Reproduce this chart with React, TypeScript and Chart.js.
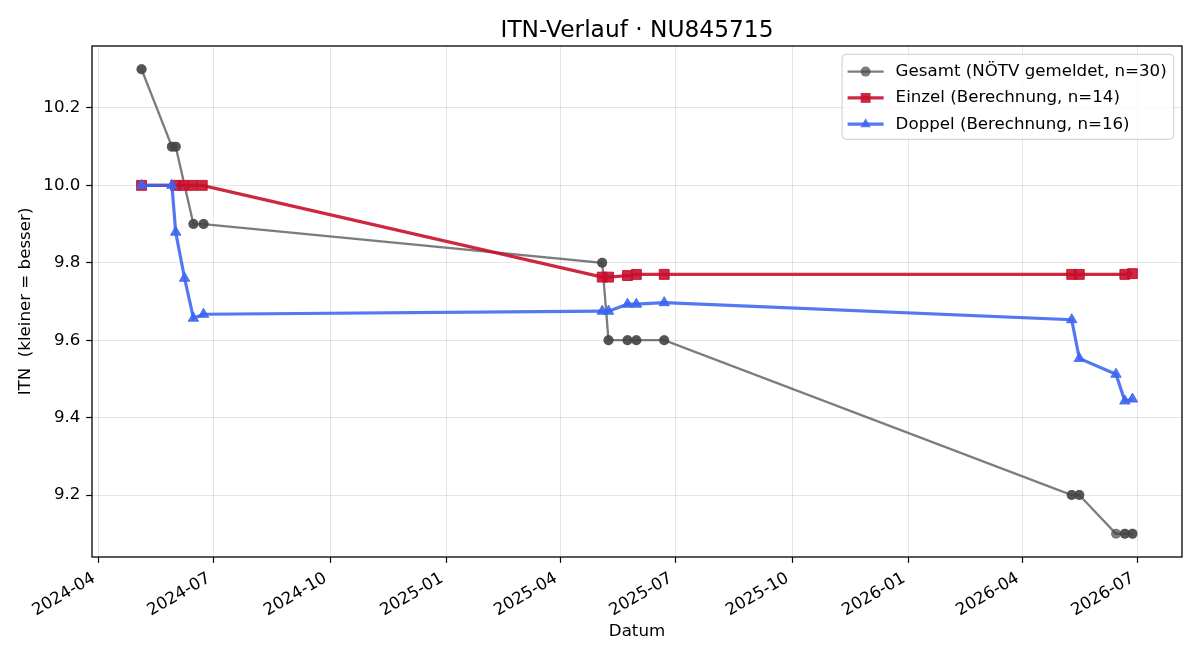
import React, { useEffect, useRef } from "react";
import { Chart, registerables } from "chart.js";

Chart.register(...registerables);

// ---- data ----
const gesamtDates = [
  "2024-05-05", "2024-05-05",
  "2024-05-29", "2024-05-29",
  "2024-06-01", "2024-06-01",
  "2024-06-15", "2024-06-15",
  "2024-06-23", "2024-06-23",
  "2025-05-04", "2025-05-04",
  "2025-05-09", "2025-05-09",
  "2025-05-24", "2025-05-24",
  "2025-05-31", "2025-05-31",
  "2025-06-22", "2025-06-22",
  "2026-05-10", "2026-05-10",
  "2026-05-16", "2026-05-16",
  "2026-06-14",
  "2026-06-21", "2026-06-21",
  "2026-06-27", "2026-06-27",
];
const gesamtValues = [
  10.3, 10.3,
  10.1, 10.1,
  10.1, 10.1,
  9.9, 9.9,
  9.9, 9.9,
  9.8, 9.8,
  9.6, 9.6,
  9.6, 9.6,
  9.6, 9.6,
  9.6, 9.6,
  9.2, 9.2,
  9.2, 9.2,
  9.1,
  9.1, 9.1,
  9.1, 9.1,
];

const einzelDates = [
  "2024-05-05", "2024-06-01", "2024-06-07", "2024-06-14", "2024-06-22",
  "2025-05-04", "2025-05-09", "2025-05-24", "2025-05-31", "2025-06-22",
  "2026-05-10", "2026-05-16", "2026-06-21", "2026-06-27",
];
const einzelValues = [
  10.0, 10.0, 10.0, 10.0, 10.0,
  9.763, 9.763, 9.767, 9.77, 9.77,
  9.77, 9.77, 9.77, 9.772,
];

const doppelDates = [
  "2024-05-05", "2024-05-29", "2024-06-01", "2024-06-08", "2024-06-15", "2024-06-23",
  "2025-05-04", "2025-05-09", "2025-05-24", "2025-05-31", "2025-06-22",
  "2026-05-10", "2026-05-16", "2026-06-14", "2026-06-21", "2026-06-27",
];
const doppelValues = [
  10.0, 10.0, 9.879, 9.76, 9.657, 9.667,
  9.675, 9.675, 9.693, 9.693, 9.697,
  9.653, 9.553, 9.512, 9.443, 9.448,
];

const xTickDates = [
  "2024-04-01", "2024-07-01", "2024-10-01", "2025-01-01", "2025-04-01",
  "2025-07-01", "2025-10-01", "2026-01-01", "2026-04-01", "2026-07-01",
];
const yTickValues = [9.2, 9.4, 9.6, 9.8, 10.0, 10.2];

const seriesLabels = [
  "Gesamt (NÖTV gemeldet, n=30)",
  "Einzel (Berechnung, n=14)",
  "Doppel (Berechnung, n=16)",
];
const titleText = "ITN-Verlauf · NU845715";
const xAxisLabel = "Datum";
const yAxisLabel = "ITN  (kleiner = besser)";

// ---- helpers ----
const FONT = "'DejaVu Sans', 'Liberation Sans', sans-serif";
const FS = 16.67;

const toTs = (s: string) => {
  const [y, m, d] = s.split("-").map(Number);
  return Date.UTC(y, m - 1, d);
};
const toPoints = (dates: string[], vals: number[]) =>
  dates.map((d, i) => ({ x: toTs(d), y: vals[i] }));

const allTs = [...gesamtDates, ...einzelDates, ...doppelDates].map(toTs);
const tsMin = Math.min(...allTs);
const tsMax = Math.max(...allTs);
const xMin = tsMin - (tsMax - tsMin) * 0.05;
const xMax = tsMax + (tsMax - tsMin) * 0.05;

const allVals = [...gesamtValues, ...einzelValues, ...doppelValues];
const vMin = Math.min(...allVals);
const vMax = Math.max(...allVals);
const yMin = vMin - (vMax - vMin) * 0.05;
const yMax = vMax + (vMax - vMin) * 0.05;

const fmtMonth = (v: number) => {
  const d = new Date(v);
  const m = d.getUTCMonth() + 1;
  return `${d.getUTCFullYear()}-${m < 10 ? "0" + m : m}`;
};

function drawMarker(ctx: CanvasRenderingContext2D, style: string, x: number, y: number, r: number) {
  ctx.beginPath();
  if (style === "rect") {
    const h = r * Math.SQRT1_2;
    ctx.rect(x - h, y - h, 2 * h, 2 * h);
  } else if (style === "triangle") {
    ctx.moveTo(x, y - r);
    ctx.lineTo(x + r * Math.sin((2 * Math.PI) / 3), y - r * Math.cos((2 * Math.PI) / 3));
    ctx.lineTo(x + r * Math.sin((4 * Math.PI) / 3), y - r * Math.cos((4 * Math.PI) / 3));
    ctx.closePath();
  } else {
    ctx.arc(x, y, r, 0, Math.PI * 2);
  }
  ctx.fill();
}

const spinePlugin = {
  id: "spines",
  afterDatasetsDraw(chart: any) {
    const { ctx, chartArea: a } = chart;
    ctx.save();
    ctx.strokeStyle = "#000";
    ctx.lineWidth = 1.3;
    ctx.strokeRect(a.left, a.top, a.right - a.left, a.bottom - a.top);
    ctx.restore();
  },
};

const titlePlugin = {
  id: "mplTitle",
  afterDraw(chart: any) {
    const { ctx, chartArea: a } = chart;
    ctx.save();
    ctx.font = `23.3px ${FONT}`;
    ctx.fillStyle = "#000";
    ctx.textAlign = "center";
    ctx.textBaseline = "alphabetic";
    ctx.fillText(titleText, (a.left + a.right) / 2, 36.7);
    ctx.restore();
  },
};

const legendPlugin = {
  id: "mplLegend",
  afterDraw(chart: any) {
    const { ctx, chartArea: a } = chart;
    const ds = chart.data.datasets;
    ctx.save();
    ctx.font = `${FS}px ${FONT}`;
    const maxW = Math.max(...ds.map((d: any) => ctx.measureText(d.label).width));
    const padL = 5.5, handleLen = 36, textPad = 12, padR = 7, rowH = 26.3;
    const w = padL + handleLen + textPad + maxW + padR;
    const h = 85;
    const x0 = a.right - 8.3 - w;
    const y0 = a.top + 8.3;
    const rad = 4;
    ctx.beginPath();
    ctx.moveTo(x0 + rad, y0);
    ctx.lineTo(x0 + w - rad, y0);
    ctx.quadraticCurveTo(x0 + w, y0, x0 + w, y0 + rad);
    ctx.lineTo(x0 + w, y0 + h - rad);
    ctx.quadraticCurveTo(x0 + w, y0 + h, x0 + w - rad, y0 + h);
    ctx.lineTo(x0 + rad, y0 + h);
    ctx.quadraticCurveTo(x0, y0 + h, x0, y0 + h - rad);
    ctx.lineTo(x0, y0 + rad);
    ctx.quadraticCurveTo(x0, y0, x0 + rad, y0);
    ctx.closePath();
    ctx.fillStyle = "rgba(255,255,255,0.8)";
    ctx.fill();
    ctx.strokeStyle = "#cccccc";
    ctx.lineWidth = 1;
    ctx.stroke();

    ds.forEach((d: any, i: number) => {
      const cy = y0 + 17.3 + i * rowH;
      const hx = x0 + padL;
      ctx.strokeStyle = d.borderColor;
      ctx.lineWidth = d.borderWidth;
      ctx.beginPath();
      ctx.moveTo(hx, cy);
      ctx.lineTo(hx + handleLen, cy);
      ctx.stroke();
      ctx.fillStyle = d.pointBackgroundColor;
      drawMarker(ctx, d.pointStyle, hx + handleLen / 2, cy, d.pointRadius);
      ctx.fillStyle = "#000";
      ctx.textAlign = "left";
      ctx.textBaseline = "middle";
      ctx.fillText(d.label, hx + handleLen + textPad, cy);
    });
    ctx.restore();
  },
};

export default function App() {
  const ref = useRef<HTMLCanvasElement | null>(null);

  useEffect(() => {
    if (!ref.current) return;
    Chart.defaults.font.family = FONT;
    Chart.defaults.color = "#000";

    const grey = "rgba(68,68,68,0.7)";
    const red = "rgba(200,16,46,0.9)";
    const blue = "rgba(60,100,240,0.88)";

    const chart = new Chart(ref.current, {
      type: "line",
      data: {
        datasets: [
          {
            label: seriesLabels[0],
            data: toPoints(gesamtDates, gesamtValues),
            borderColor: grey,
            backgroundColor: grey,
            borderWidth: 2.3,
            pointStyle: "circle",
            pointRadius: 5,
            pointBackgroundColor: grey,
            pointBorderColor: grey,
            pointBorderWidth: 0,
            order: 3,
          },
          {
            label: seriesLabels[1],
            data: toPoints(einzelDates, einzelValues),
            borderColor: red,
            backgroundColor: red,
            borderWidth: 3.2,
            pointStyle: "rect",
            pointRadius: 7,
            pointBackgroundColor: red,
            pointBorderColor: red,
            pointBorderWidth: 1,
            order: 2,
          },
          {
            label: seriesLabels[2],
            data: toPoints(doppelDates, doppelValues),
            borderColor: blue,
            backgroundColor: blue,
            borderWidth: 3.2,
            pointStyle: "triangle",
            pointRadius: 6,
            pointBackgroundColor: blue,
            pointBorderColor: blue,
            pointBorderWidth: 1,
            order: 1,
          },
        ] as any,
      },
      options: {
        responsive: false,
        animation: false,
        devicePixelRatio: 1,
        events: [],
        layout: { padding: { left: 0, right: 18, top: 46, bottom: 0 } },
        plugins: {
          legend: { display: false },
          tooltip: { enabled: false },
          title: { display: false },
        },
        scales: {
          x: {
            type: "linear",
            min: xMin,
            max: xMax,
            afterBuildTicks: (scale: any) => {
              scale.ticks = xTickDates.map((d) => ({ value: toTs(d) }));
            },
            afterFit: (scale: any) => {
              scale.height = 103;
            },
            ticks: {
              autoSkip: false,
              minRotation: 30,
              maxRotation: 30,
              labelOffset: -4.5,
              padding: 5.8,
              color: "#000",
              font: { family: FONT, size: FS },
              callback: (v: any) => fmtMonth(Number(v)),
            },
            grid: {
              color: "rgba(0,0,0,0.1)",
              lineWidth: 1,
              tickColor: "#000",
              tickLength: 5.8,
              tickWidth: 1.2,
            },
            border: { display: false },
            title: {
              display: true,
              text: xAxisLabel,
              color: "#000",
              font: { family: FONT, size: FS },
              padding: { top: 0, bottom: 18 },
            },
          },
          y: {
            type: "linear",
            min: yMin,
            max: yMax,
            afterBuildTicks: (scale: any) => {
              scale.ticks = yTickValues.map((v) => ({ value: v }));
            },
            afterFit: (scale: any) => {
              scale.width = 92;
            },
            ticks: {
              padding: 5.8,
              color: "#000",
              font: { family: FONT, size: FS },
              callback: (v: any) => Number(v).toFixed(1),
            },
            grid: {
              color: "rgba(0,0,0,0.1)",
              lineWidth: 1,
              tickColor: "#000",
              tickLength: 5.8,
              tickWidth: 1.2,
            },
            border: { display: false },
            title: {
              display: true,
              text: yAxisLabel,
              color: "#000",
              font: { family: FONT, size: FS },
              padding: { top: 15.5, bottom: 0 },
            },
          },
        },
      } as any,
      plugins: [spinePlugin, titlePlugin, legendPlugin],
    });

    return () => chart.destroy();
  }, []);

  return (
    <div style={{ position: "fixed", left: 0, top: 0, width: 1200, height: 660, background: "#fff" }}>
      <canvas ref={ref} width={1200} height={660} style={{ width: 1200, height: 660, display: "block" }} />
    </div>
  );
}
